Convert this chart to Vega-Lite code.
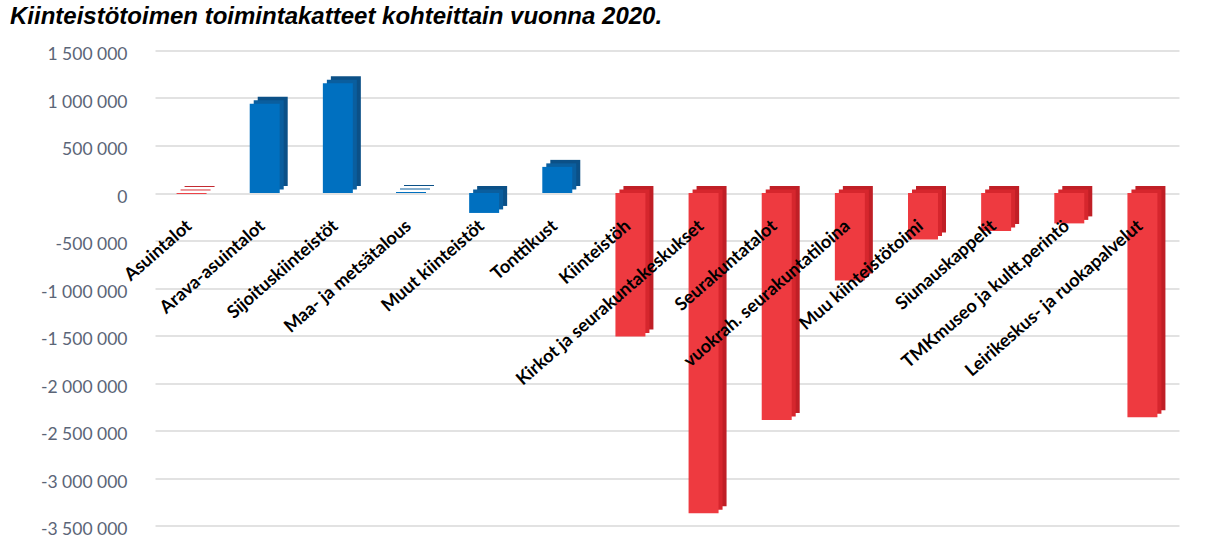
{
  "$schema": "https://vega.github.io/schema/vega-lite/v6.json",
  "autosize": {"type": "none"},
  "width": 1024,
  "height": 475,
  "padding": {"left": 155, "top": 50.5, "right": 47, "bottom": 21.5},
  "background": "white",
  "title": {
    "text": "Kiinteistötoimen toimintakatteet kohteittain vuonna 2020.",
    "anchor": "start",
    "frame": "group",
    "dx": -145,
    "font": "Liberation Sans",
    "fontSize": 24,
    "fontStyle": "italic",
    "fontWeight": "bold",
    "color": "#000000",
    "baseline": "alphabetic",
    "offset": -2
  },
  "config": {
    "view": {"stroke": null},
    "locale": {"number": {"decimal": ",", "thousands": " ", "grouping": [3], "currency": ["", " €"], "minus": "-"}}
  },
  "data": {
    "values": [
      {"kohde": "Asuintalot", "toimintakate": -10000, "ryhma": "B"},
      {"kohde": "Arava-asuintalot", "toimintakate": 940000, "ryhma": "A"},
      {"kohde": "Sijoituskiinteistöt", "toimintakate": 1155000, "ryhma": "A"},
      {"kohde": "Maa- ja metsätalous", "toimintakate": 10000, "ryhma": "A"},
      {"kohde": "Muut kiinteistöt", "toimintakate": -210000, "ryhma": "A"},
      {"kohde": "Tonttikust", "toimintakate": 275000, "ryhma": "A"},
      {"kohde": "Kiinteistöh", "toimintakate": -1510000, "ryhma": "B"},
      {"kohde": "Kirkot ja seurakuntakeskukset", "toimintakate": -3370000, "ryhma": "B"},
      {"kohde": "Seurakuntatalot", "toimintakate": -2390000, "ryhma": "B"},
      {"kohde": "vuokrah. seurakuntatiloina", "toimintakate": -920000, "ryhma": "B"},
      {"kohde": "Muu kiinteistötoimi", "toimintakate": -490000, "ryhma": "B"},
      {"kohde": "Siunauskappelit", "toimintakate": -400000, "ryhma": "B"},
      {"kohde": "TMKmuseo ja kultt.perintö", "toimintakate": -320000, "ryhma": "B"},
      {"kohde": "Leirikeskus- ja ruokapalvelut", "toimintakate": -2360000, "ryhma": "B"}
    ]
  },
  "encoding": {
    "x": {
      "field": "kohde",
      "type": "nominal",
      "sort": null,
      "scale": {"paddingInner": 0.59, "paddingOuter": 0.295},
      "axis": null
    }
  },
  "layer": [
    {
      "mark": {"type": "bar", "xOffset": 8, "yOffset": -7},
      "encoding": {
        "y": {
          "field": "toimintakate",
          "type": "quantitative",
          "scale": {"domain": [-3500000, 1500000], "nice": false},
          "axis": {
            "title": null,
            "domain": false,
            "ticks": false,
            "tickCount": 10,
            "format": ",d",
            "labelPadding": 28,
            "labelOffset": 4,
            "labelFont": "Lato",
            "labelFontSize": 17.5,
            "labelColor": "#5b6577",
            "gridColor": "#d9d9d9",
            "gridWidth": 1.5
          }
        },
        "color": {
          "field": "ryhma",
          "type": "nominal",
          "scale": {"domain": ["A", "B"], "range": ["#0b5087", "#c01f26"]},
          "legend": null
        }
      }
    },
    {
      "mark": {"type": "bar", "xOffset": 4, "yOffset": -3.5},
      "encoding": {
        "y": {"field": "toimintakate", "type": "quantitative"},
        "color": {
          "field": "ryhma",
          "type": "nominal",
          "scale": {"domain": ["A", "B"], "range": ["#0a5e9e", "#d6262d"]},
          "legend": null
        }
      }
    },
    {
      "mark": {"type": "bar"},
      "encoding": {
        "y": {"field": "toimintakate", "type": "quantitative"},
        "color": {
          "field": "ryhma",
          "type": "nominal",
          "scale": {"domain": ["A", "B"], "range": ["#0070c0", "#ee3a40"]},
          "legend": null
        }
      }
    },
    {
      "mark": {
        "type": "text",
        "angle": -41,
        "align": "right",
        "baseline": "middle",
        "font": "Lato",
        "fontSize": 18,
        "fontWeight": "bold",
        "color": "#000000",
        "xOffset": -2,
        "yOffset": 31
      },
      "encoding": {
        "y": {"datum": 0, "type": "quantitative"},
        "text": {"field": "kohde", "type": "nominal"}
      }
    }
  ],
  "resolve": {"scale": {"color": "independent"}}
}
